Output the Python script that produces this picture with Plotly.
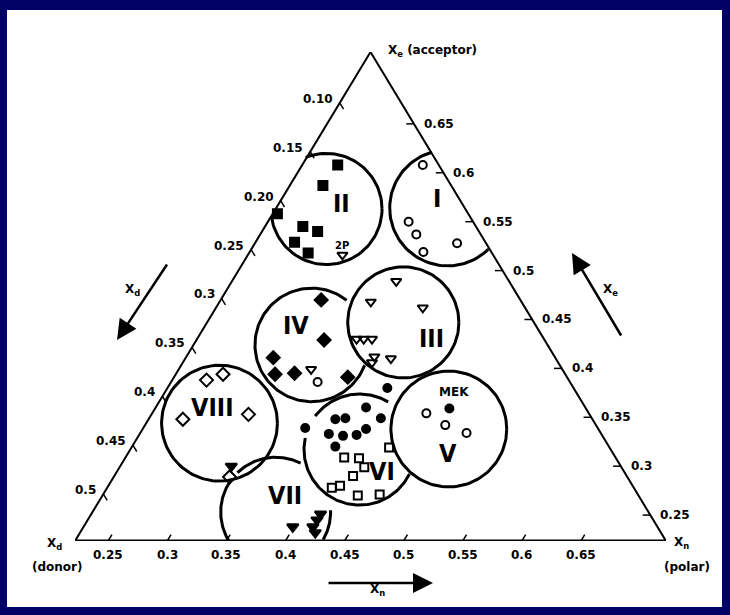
import numpy as np
import plotly.graph_objects as go

# ---------------------------------------------------------------------------
# triangle reading frame: composition at each axis minimum, and the span
XE0, XN0, XD0, SPAN = 0.2235, 0.222, 0.048, 0.5

# tick labels along the three edges
xd_ticks = [0.10, 0.15, 0.20, 0.25, 0.30, 0.35, 0.40, 0.45, 0.50]
xd_text = ["0.10", "0.15", "0.20", "0.25", "0.3", "0.35", "0.4", "0.45", "0.5"]
xe_ticks = [0.65, 0.60, 0.55, 0.50, 0.45, 0.40, 0.35, 0.30, 0.25]
xe_text = ["0.65", "0.6", "0.55", "0.5", "0.45", "0.4", "0.35", "0.3", "0.25"]
xn_ticks = [0.25, 0.30, 0.35, 0.40, 0.45, 0.50, 0.55, 0.60, 0.65]
xn_text = ["0.25", "0.3", "0.35", "0.4", "0.45", "0.5", "0.55", "0.6", "0.65"]

# solvents, (xe, xn) per marker kind
sq_fill_xe = [0.608, 0.587, 0.558, 0.545, 0.540, 0.529, 0.518]
sq_fill_xn = [0.252, 0.250, 0.226, 0.254, 0.269, 0.255, 0.272]

circ_open_xe = [0.608, 0.550, 0.537, 0.519, 0.528, 0.386, 0.354, 0.342, 0.334]
circ_open_xn = [0.324, 0.341, 0.354, 0.369, 0.393, 0.346, 0.454, 0.476, 0.498]

tri_open_xe = [0.516, 0.489, 0.468, 0.462, 0.430, 0.430, 0.430, 0.412, 0.406, 0.410, 0.399]
tri_open_xn = [0.302, 0.361, 0.350, 0.397, 0.357, 0.363, 0.370, 0.381, 0.382, 0.396, 0.334]

dia_fill_xe = [0.470, 0.429, 0.411, 0.394, 0.395, 0.391]
dia_fill_xn = [0.307, 0.330, 0.296, 0.306, 0.322, 0.369]

dia_open_xe = [0.388, 0.394, 0.348, 0.353, 0.289]
dia_open_xn = [0.251, 0.262, 0.251, 0.304, 0.320]

circ_fill_xe = [0.359, 0.380, 0.360, 0.348, 0.349, 0.349, 0.333, 0.331, 0.332, 0.338, 0.320, 0.339]
circ_fill_xn = [0.471, 0.408, 0.400, 0.380, 0.388, 0.418, 0.382, 0.395, 0.406, 0.411, 0.394, 0.359]

sq_open_xe = [0.309, 0.308, 0.299, 0.290, 0.278, 0.280, 0.270, 0.271, 0.319]
sq_open_xn = [0.407, 0.420, 0.429, 0.424, 0.412, 0.418, 0.438, 0.456, 0.440]

tri_fill_xe = [0.238, 0.238, 0.245, 0.251, 0.232, 0.300]
tri_fill_xn = [0.399, 0.416, 0.416, 0.416, 0.421, 0.316]

# selectivity groups: centre (xe, xn), radius (composition units), label spot
groups = ["I", "II", "III", "IV", "V", "VI", "VII", "VIII"]
grp_xe = [0.564, 0.563, 0.447, 0.424, 0.338, 0.317, 0.253, 0.344]
grp_xn = [0.367, 0.265, 0.388, 0.322, 0.481, 0.416, 0.377, 0.284]
grp_r = [0.049, 0.047, 0.047, 0.048, 0.049, 0.047, 0.0465, 0.049]
lab_xe = [0.574, 0.569, 0.431, 0.444, 0.313, 0.295, 0.270, 0.360]
lab_xn = [0.353, 0.275, 0.420, 0.299, 0.493, 0.446, 0.376, 0.270]
# drawn parts of each ring (degrees)
grp_arcs = [[(0, 360)], [(0, 360)], [(0, 360)], [(52, 339)], [(0, 360)],
            [(59, 143), (168, 334)], [(63, 134), (144, 212), (-30, 2)], [(0, 360)]]

# ---------------------------------------------------------------------------
W, H = 730, 615
PL, PR, PT, PB = 75, 666, 52, 541          # triangle corners in the page
PW, PH = PR - PL, PB - PT


def to_xy(xe, xn):
    a = (np.asarray(xe, float) - XE0) / SPAN
    c = (np.asarray(xn, float) - XN0) / SPAN
    return c + a / 2, a


def ring(xe, xn, r, arcs):
    x0, y0 = to_xy(xe, xn)
    rx = r / SPAN
    ry = rx * PW / PH
    xs, ys = [], []
    for t0, t1 in arcs:
        th = np.radians(np.linspace(t0, t1, 120))
        for x, y in zip(x0 + rx * np.cos(th), y0 + ry * np.sin(th)):
            c = x - y / 2
            if y < -0.002 or c < -0.002 or 1 - y - c < -0.002:
                xs.append(None); ys.append(None)
            else:
                xs.append(x); ys.append(y)
        xs.append(None); ys.append(None)
    return xs, ys


fig = go.Figure()

# triangle
fig.add_trace(go.Scatter(x=[0, 0.5, 1], y=[0, 1, 0], mode="lines",
                         line=dict(color="black", width=2), cliponaxis=False))
fig.add_trace(go.Scatter(x=[0, 1], y=[0, 0], mode="lines",
                         line=dict(color="black", width=3), cliponaxis=False))

# tick marks pointing inwards along grid directions
tx, ty = [], []
d = 0.013
for v in xd_ticks:
    a = 1 - (v - XD0) / SPAN
    tx += [a / 2, a / 2 + d / 2, None]; ty += [a, a - d, None]
for v in xe_ticks:
    a = (v - XE0) / SPAN
    tx += [1 - a / 2, 1 - a / 2 - d, None]; ty += [a, a, None]
for v in xn_ticks:
    c = (v - XN0) / SPAN
    tx += [c, c + d / 2, None]; ty += [0, d, None]
fig.add_trace(go.Scatter(x=tx, y=ty, mode="lines",
                         line=dict(color="black", width=1.5), cliponaxis=False))

# group rings
cx, cy = [], []
for i in range(len(groups)):
    xs, ys = ring(grp_xe[i], grp_xn[i], grp_r[i], grp_arcs[i])
    cx += xs; cy += ys
fig.add_trace(go.Scatter(x=cx, y=cy, mode="lines", line=dict(color="black", width=3),
                         cliponaxis=False))

# solvents
kinds = [
    (sq_fill_xe, sq_fill_xn, "square", 9),
    (circ_open_xe, circ_open_xn, "circle-open", 8),
    (tri_open_xe, tri_open_xn, "triangle-down-open", 9),
    (dia_fill_xe, dia_fill_xn, "diamond", 10),
    (dia_open_xe, dia_open_xn, "diamond-open", 10),
    (circ_fill_xe, circ_fill_xn, "circle", 8),
    (sq_open_xe, sq_open_xn, "square-open", 8),
    (tri_fill_xe, tri_fill_xn, "triangle-down", 10),
]
for xe, xn, sym, sz in kinds:
    x, y = to_xy(xe, xn)
    fig.add_trace(go.Scatter(x=x, y=y, mode="markers", cliponaxis=False,
                             marker=dict(symbol=sym, size=sz, color="black",
                                         line=dict(color="black", width=2))))

tick_font = dict(family="DejaVu Sans", size=12, color="black", weight="bold")
for v, t in zip(xd_ticks, xd_text):
    a = 1 - (v - XD0) / SPAN
    fig.add_annotation(x=a / 2, y=a, text=t, showarrow=False, xanchor="right",
                       yanchor="middle", xshift=-5, yshift=4, font=tick_font)
for v, t in zip(xe_ticks, xe_text):
    a = (v - XE0) / SPAN
    fig.add_annotation(x=1 - a / 2, y=a, text=t, showarrow=False, xanchor="left",
                       yanchor="middle", xshift=8, yshift=0, font=tick_font)
for v, t in zip(xn_ticks, xn_text):
    c = (v - XN0) / SPAN
    fig.add_annotation(x=c, y=0, text=t, showarrow=False, xanchor="center",
                       yanchor="top", yshift=-5, font=tick_font)

# group numerals
lx, ly = to_xy(lab_xe, lab_xn)
for g, x, y in zip(groups, lx, ly):
    fig.add_annotation(x=x, y=y, text=g, showarrow=False,
                       font=dict(family="Liberation Sans Narrow, DejaVu Sans Condensed",
                                 size=25, color="black", weight="bold"))

# solvent names
mx, my = to_xy([0.376, 0.526], [0.466, 0.297])
fig.add_annotation(x=mx[0], y=my[0], text="MEK", showarrow=False,
                   font=dict(family="DejaVu Sans", size=12, color="black", weight="bold"))
fig.add_annotation(x=mx[1], y=my[1], text="2P", showarrow=False,
                   font=dict(family="DejaVu Sans", size=10, color="black", weight="bold"))

# corner titles
lab_font = dict(family="DejaVu Sans", size=12, color="black", weight="bold")
fig.add_annotation(x=0.5, y=1, text="X<sub>e</sub> (acceptor)", showarrow=False,
                   xanchor="left", yanchor="middle", xshift=15, yshift=1, font=lab_font)
fig.add_annotation(x=0, y=0, text="X<sub>d</sub>", showarrow=False,
                   xanchor="center", yanchor="middle", xshift=-21, yshift=-3, font=lab_font)
fig.add_annotation(x=0, y=0, text="(donor)", showarrow=False,
                   xanchor="center", yanchor="middle", xshift=-18, yshift=-26, font=lab_font)
fig.add_annotation(x=1, y=0, text="X<sub>n</sub>", showarrow=False,
                   xanchor="left", yanchor="middle", xshift=6, yshift=-2, font=lab_font)
fig.add_annotation(x=1, y=0, text="(polar)", showarrow=False,
                   xanchor="center", yanchor="middle", xshift=21, yshift=-26, font=lab_font)

# direction arrows: tip, tail offset (px), caption, caption spot
arrows = [((117, 340), 51, -77, "X<sub>d</sub>", (123, 290)),
          ((572, 253), 50, 84, "X<sub>e</sub>", (620, 290)),
          ((433, 583), -106, 0, "X<sub>n</sub>", (377, 600))]
for (px, py), ax, ay, t, (qx, qy) in arrows:
    fig.add_annotation(x=px / W, y=1 - py / H, xref="paper", yref="paper", text="",
                       showarrow=True, ax=ax, ay=ay, arrowhead=2, arrowsize=1.6,
                       arrowwidth=2.5, arrowcolor="black")
    fig.add_annotation(x=qx / W, y=1 - qy / H, xref="paper", yref="paper", text=t,
                       showarrow=False, font=lab_font)

fig.update_xaxes(range=[0, 1], domain=[PL / W, PR / W], visible=False, fixedrange=True)
fig.update_yaxes(range=[0, 1], domain=[1 - PB / H, 1 - PT / H], visible=False, fixedrange=True)
fig.update_layout(
    width=W, height=H, margin=dict(l=0, r=0, t=0, b=0),
    paper_bgcolor="#000066", plot_bgcolor="white", showlegend=False,
    shapes=[dict(type="rect", xref="paper", yref="paper", layer="below",
                 x0=7 / W, x1=722 / W, y0=1 - 607 / H, y1=1 - 10 / H,
                 fillcolor="white", line=dict(width=0))],
)
# drop the browser's default page margin so the figure sits at the window corner
fig.write_html("out.html", config={"displayModeBar": False},
               post_script="document.body.style.margin='0';")
